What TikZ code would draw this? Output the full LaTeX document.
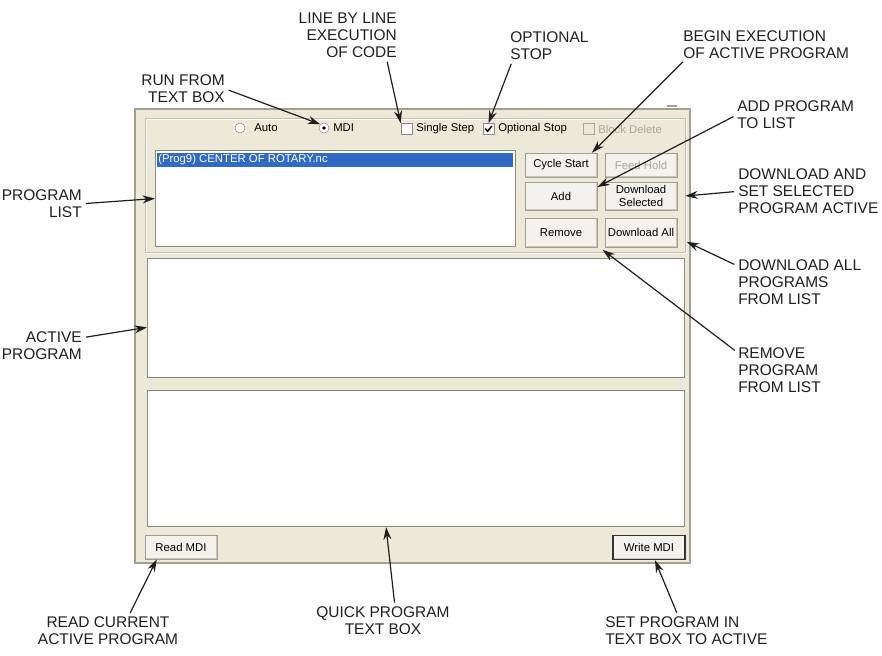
\documentclass[tikz,border=0pt]{standalone}
\usepackage{fontspec}
\setmainfont{Liberation Sans}
\usetikzlibrary{arrows.meta}

\definecolor{winbg}{HTML}{ECE9D8}
\definecolor{winedge}{HTML}{A3A092}
\definecolor{etch}{HTML}{C2BFAE}
\definecolor{sunk}{HTML}{8E8C80}
\definecolor{selblue}{HTML}{316AC5}
\definecolor{greyed}{HTML}{ACA899}
\definecolor{btnface}{HTML}{F3F2EC}
\definecolor{btnedge}{HTML}{A09E90}
\definecolor{btnshade}{HTML}{C9C6B6}

\begin{document}
\begin{tikzpicture}[x=0.75pt,y=-0.75pt]
  \tikzset{
    callout/.style={font=\fontsize{11.6}{12.8}\selectfont,text=black!88,inner sep=0pt},
    pointer/.style={-{Stealth[length=3.3mm,width=2.1mm]},line width=0.9pt,black!88,shorten <=3pt},
    gui/.style={font=\fontsize{8.5}{9.2}\selectfont,inner sep=0pt},
    btn/.style={gui,draw=btnedge,fill=btnface,minimum width=54pt,minimum height=18pt,align=center,
      path picture={\draw[btnshade,line width=1.6pt] (path picture bounding box.south west) --
        (path picture bounding box.south east) -- (path picture bounding box.north east);}},
    panel/.style={draw=sunk,fill=white,line width=0.8pt,anchor=north west,inner sep=0pt},
    tick/.style={draw=sunk,fill=white,minimum size=8.25pt,inner sep=0pt}
  }
  \useasboundingbox (0,0) rectangle (882,656);

  % window and group frame
  \draw[winedge,fill=winbg,line width=0.9pt] (135,109) rectangle (690,563);
  \draw[winedge,line width=1.1pt] (667,106) -- (677,106);
  \draw[white] (146,119) rectangle (686,253);
  \draw[etch] (145,118) rectangle (685,252);

  % mode row
  \node[circle,draw=sunk,fill=white,minimum size=7.5pt,inner sep=0pt] (autoradio) at (240,128) {};
  \node[circle,draw=sunk,fill=white,minimum size=7.5pt,inner sep=0pt] (mdiradio) at (324,128) {};
  \fill (mdiradio.center) circle (1.4pt);
  \node[gui,anchor=west] (autotxt) at (254,128) {Auto};
  \node[gui,anchor=west] (mditxt) at (333,128) {MDI};
  \node[tick] (ssbox) at (406.5,129) {};
  \node[gui,anchor=west] (sstxt) at (416,129) {Single Step};
  \node[tick] (osbox) at (488.5,129) {};
  \draw[line width=1.1pt] ([shift={(-2.4pt,0.4pt)}]osbox.center) -- ([shift={(-0.7pt,-1.7pt)}]osbox.center)
    -- ([shift={(2.5pt,2.2pt)}]osbox.center);
  \node[gui,anchor=west] (ostxt) at (498,129) {Optional Stop};
  \node[tick,draw=greyed,fill=winbg] (bdbox) at (588.5,129) {};
  \node[gui,anchor=west,text=greyed] (bdtxt) at (598,129) {Block Delete};

  % list, text areas
  \node[panel,minimum width=270pt,minimum height=72pt] (proglist) at (155,150) {};
  \fill[selblue] (157,153) rectangle (513,167);
  \node[gui,anchor=west,text=white] (rowtxt) at (158,160) {(Prog9) CENTER OF ROTARY.nc};
  \node[panel,minimum width=402.75pt,minimum height=89.25pt] (active) at (147,258) {};
  \node[panel,minimum width=402.75pt,minimum height=102pt] (quick) at (147,390) {};

  % buttons
  \node[btn] (cycle) at (561,165) {Cycle Start};
  \node[btn,text=greyed] (feed) at (641,165) {Feed Hold};
  \node[btn,minimum height=21pt] (add) at (561,196) {Add};
  \node[btn,minimum height=21pt] (dlsel) at (641,196) {Download\\Selected};
  \node[btn,minimum height=21.5pt] (remove) at (561,232.5) {Remove};
  \node[btn,minimum height=21.5pt] (dlall) at (641,232.5) {Download All};
  \node[btn] (readmdi) at (181,547) {Read MDI};
  \node[btn,draw=black!80,line width=1pt] (writemdi) at (649,547.5) {Write MDI};

  % callouts
  \node[callout,align=right,anchor=north east] (runlbl) at (225,74.5) {RUN FROM\\TEXT BOX};
  \node[callout,align=right,anchor=north east] (linelbl) at (397,12.5) {LINE BY LINE\\EXECUTION\\OF CODE};
  \node[callout,align=left,anchor=north west] (optlbl) at (510,31.5) {OPTIONAL\\STOP};
  \node[callout,align=left,anchor=north west] (beginlbl) at (683,30.5) {BEGIN EXECUTION\\OF ACTIVE PROGRAM};
  \node[callout,align=left,anchor=north west] (addlbl) at (737,100.5) {ADD PROGRAM\\TO LIST};
  \node[callout,align=left,anchor=north west] (dlsellbl) at (738,168.5) {DOWNLOAD AND\\SET SELECTED\\PROGRAM ACTIVE};
  \node[callout,align=left,anchor=north west] (dlalllbl) at (738,259.5) {DOWNLOAD ALL\\PROGRAMS\\FROM LIST};
  \node[callout,align=left,anchor=north west] (removelbl) at (738,347.5) {REMOVE\\PROGRAM\\FROM LIST};
  \node[callout,align=right,anchor=north east] (proglbl) at (82,189.5) {PROGRAM\\LIST};
  \node[callout,align=right,anchor=north east] (activelbl) at (82,331.5) {ACTIVE\\PROGRAM};
  \node[callout,align=center,anchor=north] (readlbl) at (108,616.5) {READ CURRENT\\ACTIVE PROGRAM};
  \node[callout,align=center,anchor=north] (quicklbl) at (383,606.5) {QUICK PROGRAM\\TEXT BOX};
  \node[callout,align=left,anchor=north west] (setlbl) at (605,616.5) {SET PROGRAM IN\\TEXT BOX TO ACTIVE};

  \draw[pointer] (runlbl.east) -- (mdiradio.north west);
  \draw[pointer] ([xshift=-8pt]linelbl.south east) -- (ssbox.north west);
  \draw[pointer] ([xshift=2pt]optlbl.south west) -- (osbox.north);
  \draw[pointer] ([xshift=2pt]beginlbl.south west) -- ([xshift=-4pt]cycle.north east);
  \draw[pointer] (addlbl.west) -- ([yshift=-4pt]add.north east);
  \draw[pointer] (dlsellbl.west) -- ([xshift=6pt]dlsel.east);
  \draw[pointer] ([yshift=-5pt]dlalllbl.north west) -- ([shift={(7pt,4pt)}]dlall.south east);
  \draw[pointer] ([yshift=-4pt]removelbl.north west) -- ([shift={(4pt,-2pt)}]remove.south east);
  \draw[pointer] (proglbl.east) -- (proglist.west);
  \draw[pointer] ([yshift=6pt]activelbl.east) -- ([yshift=-7pt]active.west);
  \draw[pointer] (readlbl.35) -- ([xshift=9pt]readmdi.south west);
  \draw[pointer] (quicklbl.50) -- ([xshift=-22.5pt]quick.south);
  \draw[pointer] ([xshift=-6pt]setlbl.north) -- ([xshift=4.5pt]writemdi.south);
\end{tikzpicture}
\end{document}
